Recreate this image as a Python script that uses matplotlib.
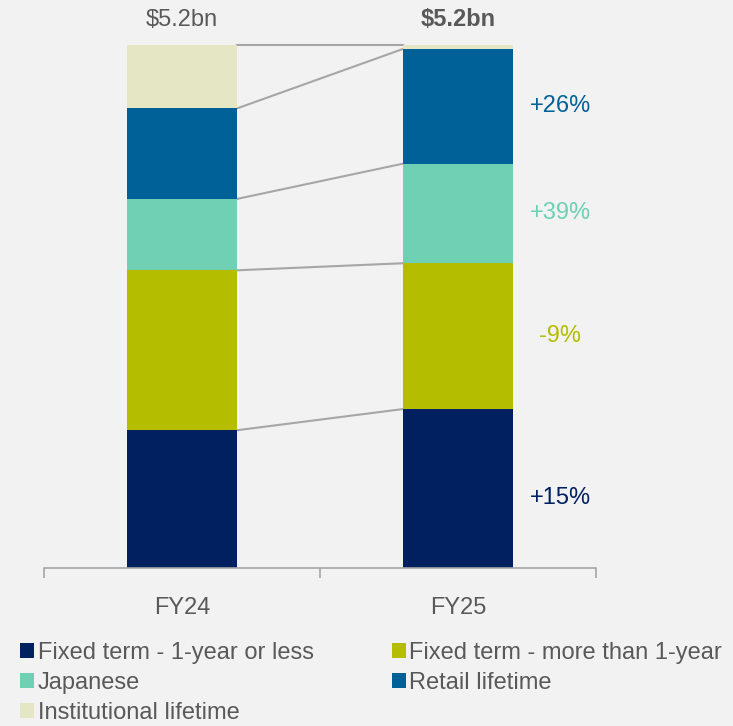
import matplotlib.pyplot as plt
import numpy as np

years = ["FY24", "FY25"]
totals = ["$5.2bn", "$5.2bn"]
segments = [
    "Fixed term - 1-year or less",
    "Fixed term - more than 1-year",
    "Japanese",
    "Retail lifetime",
    "Institutional lifetime",
]
fy24 = [1.37, 1.59, 0.71, 0.90, 0.63]
fy25 = [1.58, 1.45, 0.99, 1.14, 0.04]
changes = ["+15%", "-9%", "+39%", "+26%", None]

colors = ["#002060", "#B5BD00", "#6FD0B4", "#006199", "#E5E6C4"]
bg = "#F2F2F2"
grey_text = "#595959"
line_grey = "#A6A6A6"

plt.rcParams["font.family"] = ["Liberation Sans", "DejaVu Sans"]
fs = 17

fig = plt.figure(figsize=(7.33, 7.26), dpi=100, facecolor=bg)
ax = fig.add_axes([44 / 733, 158 / 726, 552 / 733, 523 / 726], facecolor=bg)

x = np.arange(len(years))
width = 0.4
values = np.array([fy24, fy25])
bottoms = np.zeros(len(years))
handles = []
for i, name in enumerate(segments):
    h = ax.bar(x, values[:, i], width, bottom=bottoms, color=colors[i],
               label=name, zorder=2)
    handles.append(h)
    bottoms = bottoms + values[:, i]

# connector lines between segment tops
tops = np.cumsum(values, axis=1)
for i in range(len(segments)):
    ax.plot([x[0] + width / 2, x[1] - width / 2], [tops[0, i], tops[1, i]],
            color=line_grey, linewidth=1.5, zorder=1, clip_on=False)

# change labels next to FY25
base = np.concatenate([[0], tops[1, :-1]])
for i, txt in enumerate(changes):
    if txt is None:
        continue
    yc = base[i] + values[1, i] / 2
    if i == 0:
        yc -= 0.09
    ax.text(x[1] + width / 2 + 0.17, yc, txt, color=colors[i], fontsize=fs,
            ha="center", va="center")

# totals above bars
for i, t in enumerate(totals):
    ax.text(x[i], tops[i, -1] + 0.25, t, ha="center", va="center", fontsize=fs,
            color=grey_text, fontweight="bold" if i == 1 else "normal",
            clip_on=False)

ax.set_xlim(-0.5, 1.5)
ax.set_ylim(0, 5.2)
ax.set_yticks([])
for s in ["top", "right", "left"]:
    ax.spines[s].set_visible(False)
ax.spines["bottom"].set_color(line_grey)
ax.spines["bottom"].set_linewidth(1.2)
ax.set_xticks([-0.5, 0.5, 1.5])
ax.set_xticklabels([])
ax.tick_params(axis="x", which="major", length=7, width=1.2, color=line_grey,
               direction="out")
ax.set_xticks(x, minor=True)
ax.set_xticklabels(years, minor=True)
ax.tick_params(axis="x", which="minor", length=0, pad=21, labelsize=fs,
               labelcolor=grey_text)

order = [0, 2, 4, 1, 3]
leg = fig.legend([handles[k] for k in order], [segments[k] for k in order],
                 loc="upper left", bbox_to_anchor=(20 / 733, 1 - 642 / 726),
                 ncol=2, frameon=False, fontsize=fs, handlelength=0.6,
                 handleheight=0.6, handletextpad=0.15, columnspacing=3.3,
                 labelspacing=0.34, borderaxespad=0, borderpad=0)
for t in leg.get_texts():
    t.set_color(grey_text)

fig.savefig("out.png", dpi=100, facecolor=bg)
